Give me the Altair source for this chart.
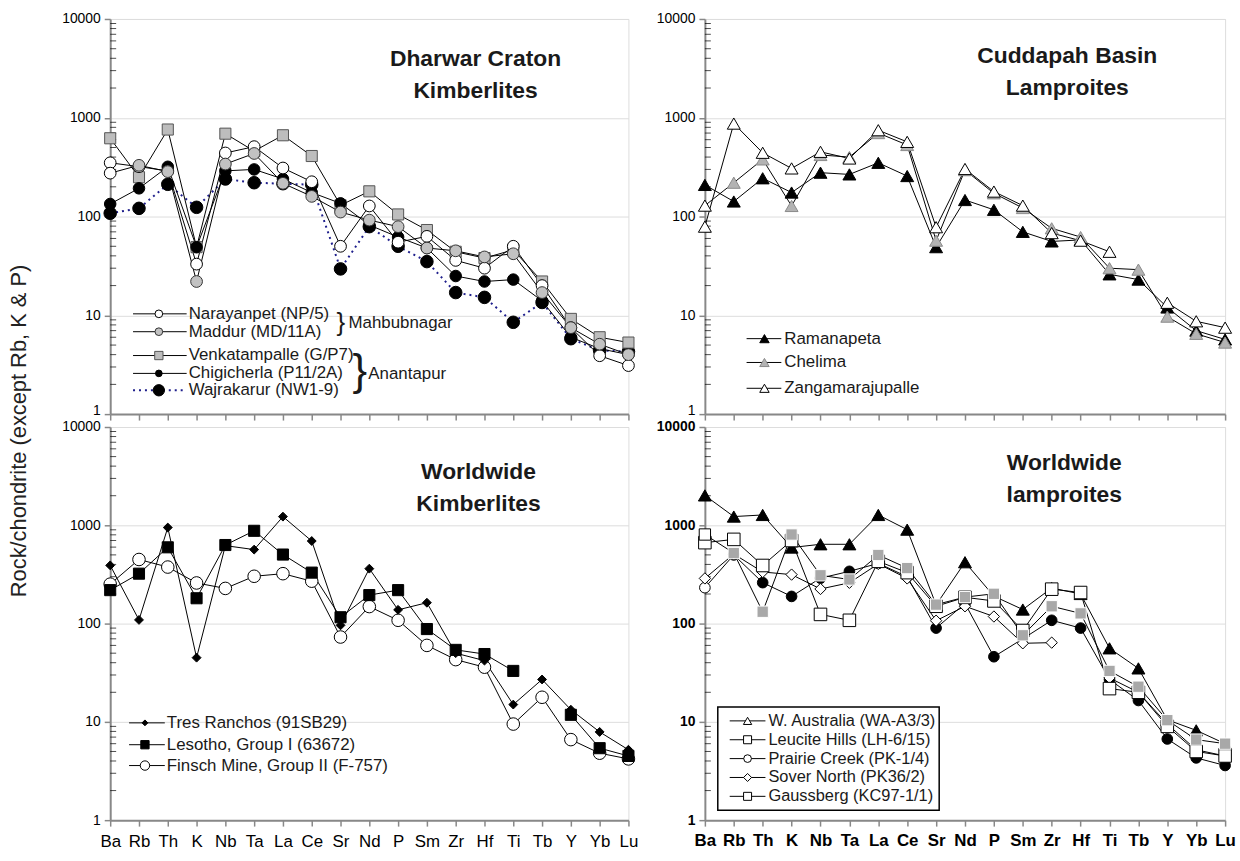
import altair as alt
import pandas as pd

FONT = "Liberation Sans"

ELEMENTS = ["Ba", "Rb", "Th", "K", "Nb", "Ta", "La", "Ce", "Sr", "Nd", "P",
            "Sm", "Zr", "Hf", "Ti", "Tb", "Y", "Yb", "Lu"]

# ---- Dharwar Craton kimberlites ----
NARAYANPET = [350, 320, 290, 33, 440, 510, 310, 225, 50, 128, 55, 63, 36, 30, 50, 20, 7.5, 3.9, 3.1]
MADDUR = [275, 330, 285, 22, 340, 435, 217, 160, 111, 92, 79, 48, 45, 39, 42, 17, 7.5, 5.1, 4.0]
VENKATAMPALLE = [620, 250, 760, 49, 690, 460, 665, 410, 130, 180, 105, 73, 44, 38, 46, 22, 9.2, 6.0, 5.3]
CHIGICHERLA = [134, 193, 319, 49, 290, 300, 240, 175, 136, 82, 62, 48, 25, 22, 23, 14, 6.0, 4.6, 4.0]
WAJRAKARUR = [108, 121, 212, 124, 240, 220, 215, 210, 29.5, 79, 50, 35, 17, 15.2, 8.5, 13.5, 5.8, 4.4, 4.3]

# ---- Cuddapah Basin lamproites ----
RAMANAPETA = [209, 142, 244, 175, 278, 267, 350, 257, 49, 147, 117, 70, 56, 58, 26, 23, 12, 7.0, 5.7]
CHELIMA = [129, 220, 379, 128, 420, 400, 700, 530, 57, 295, 172, 122, 76, 62, 30, 29, 9.7, 6.5, 5.3]
ZANGAMARAJUPALLE = [79, 873, 442, 307, 452, 387, 748, 570, 78, 303, 179, 129, 68, 57, 44, None, 13.4, 8.7, 7.5]

# ---- Worldwide kimberlites ----
TRES_RANCHOS = [391, 109, 949, 45, 621, 566, 1225, 692, 96, 362, 138, 163, 50, 42, 15, 27, 13.3, 7.9, 5.2]
LESOTHO = [219, 322, 597, 181, 630, 879, 504, 330, 116, 195, 219, 88, 54, 49, 33, None, 11.8, 5.4, 4.5]
FINSCH = [252, 449, 376, 259, 228, 303, 322, 270, 73, 149, 108, 60, 43, 36, 9.5, 17.8, 6.6, 4.8, 4.2]

# ---- Worldwide lamproites ----
W_AUSTRALIA = [2014, 1227, 1274, 594, 641, 641, 1274, 903, 155, 421, 190, 139, 230, 200, 56, 35, 10.5, 8.2, 6.0]
LEUCITE_HILLS = [666, 719, 390, 700, 124, 108, 430, 330, 150, 185, 170, 85, 224, 207, 21.8, 20, 9.0, 5.0, 4.5]
PRAIRIE_CREEK = [232, 500, 261, 189, 290, 340, 410, 300, 90, 160, 46, 70, 108, 90, 27, 16.5, 6.7, 4.3, 3.6]
SOVER_NORTH = [288, 510, 335, 315, 225, 260, 405, 288, 107, 150, 118, 63, 64, None, 28, 20, 9.5, 5.2, 4.5]
GAUSSBERG = [806, 522, 132, 806, 310, 281, 499, 367, 156, 186, 201, 76, 150, 127, 33, 22.8, 10.4, 6.6, 6.0]

Y_TICKS = [1, 10, 100, 1000, 10000]
MINOR = [m * 10 ** d for d in range(4) for m in range(2, 10)]

# point fill oddities seen in the figure (style only)
FILL_OVERRIDE = {
    ("Maddur (MD/11A)", "Ba"): ("white", "black"),
    ("Chelima", "Ba"): ("white", "black"),
    ("Prairie Creek (PK-1/4)", "Ba"): ("white", "black"),
    ("Gaussberg (KC97-1/1)", "Ba"): ("white", "black"),
}

ONE = pd.DataFrame({"k": [0]})


def build_df(names, values, styles):
    rows = []
    for s, vals in zip(names, values):
        st = styles[s]
        for i, (e, v) in enumerate(zip(ELEMENTS, vals)):
            f, sk = FILL_OVERRIDE.get((s, e), (st["fill"], st["stroke"]))
            rows.append({"series": s, "element": e, "idx": i, "value": v,
                         "fill": f, "stroke": sk})
    return pd.DataFrame(rows)


def legend_item(st, y, x0, x1, xm, xt, label, fs):
    lkw = dict(color=st.get("line", "black"), strokeWidth=st.get("lw", 1))
    if "dash" in st:
        lkw["strokeDash"] = st["dash"]
    rule = alt.Chart(ONE).mark_rule(**lkw).encode(
        x=alt.value(x0), x2=alt.value(x1), y=alt.value(y))
    pt = alt.Chart(ONE).mark_point(
        shape=st["shape"], filled=True, fill=st["fill"], stroke=st["stroke"],
        strokeWidth=1, size=st["lsize"], opacity=1).encode(x=alt.value(xm), y=alt.value(y))
    tx = alt.Chart(ONE).mark_text(
        text=label, align="left", baseline="middle", font=FONT, fontSize=fs,
        color="#1a1a1a").encode(x=alt.value(xt), y=alt.value(y))
    return [rule, pt, tx]


def text_at(txt, x, y, fs, weight="normal", align="left", baseline="middle", line_height=None, font=FONT):
    kw = dict(text=txt, align=align, baseline=baseline, font=font, fontSize=fs,
              fontWeight=weight, color="#1a1a1a")
    if line_height:
        kw["lineHeight"] = line_height
    return alt.Chart(ONE).mark_text(**kw).encode(x=alt.value(x), y=alt.value(y))


def make_panel(names, values, styles, title, tx, ty, legend_rows, lgeom, lfs,
               w, h, show_labels, bold=False, extras=None):
    df = build_df(names, values, styles)
    weight = "bold" if bold else "normal"
    xaxis = alt.Axis(title=None, labels=show_labels, labelAngle=0, labelFontSize=17,
                     labelFontWeight=weight, tickSize=6, tickWidth=1.5, domainWidth=2,
                     labelPadding=8 if not bold else 7, labelFont=FONT)
    # in the top panels the "1" label sits slightly above its tick
    loff = 0 if show_labels else {"condition": {"test": "datum.value === 1", "value": -4}, "value": 0}
    yaxis = alt.Axis(title=None, values=Y_TICKS, format="d", labelFontSize=14,
                     labelFontWeight=weight, tickSize=6, tickWidth=1.5, domainWidth=2,
                     labelPadding=4, labelFont=FONT, labelOffset=loff)
    xenc = alt.X("element:N", sort=ELEMENTS,
                 scale=alt.Scale(domain=ELEMENTS, type="point", padding=0), axis=xaxis)
    yscale = alt.Scale(type="log", domain=[1, 10000], nice=False)
    yenc = alt.Y("value:Q", scale=yscale, axis=yaxis)

    layers = []
    # minor ticks inside the y axis
    layers.append(alt.Chart(pd.DataFrame({"value": MINOR})).mark_tick(
        orient="horizontal", size=6, thickness=1, color="black").encode(
        y=yenc, x=alt.value(3)))
    for s in names:
        st = styles[s]
        lkw = dict(color=st.get("line", "black"), strokeWidth=st.get("lw", 1),
                   invalid="break-paths-filter-domains")
        if "dash" in st:
            lkw["strokeDash"] = st["dash"]
        layers.append(alt.Chart(df[df.series == s]).mark_line(**lkw).encode(
            x=xenc, y=yenc, order="idx:Q"))
    for s in names:
        st = styles[s]
        layers.append(alt.Chart(df[df.series == s]).mark_point(
            shape=st["shape"], filled=True, strokeWidth=1, size=st["size"], opacity=1).encode(
            x=xenc, y=yenc,
            fill=alt.Fill("fill:N", scale=None),
            stroke=alt.Stroke("stroke:N", scale=None)))
    if extras:
        layers.extend(extras)
    x0, x1, xm, xt = lgeom
    for s, y in legend_rows:
        layers.extend(legend_item(styles[s], y, x0, x1, xm, xt, s, lfs))
    layers.append(text_at(title, tx, ty, 23, weight="bold", align="center",
                          baseline="alphabetic", line_height=33))
    return alt.layer(*layers).properties(width=w, height=h)


# ---------------- styles ----------------
S_TL = {
    "Narayanpet (NP/5)": dict(shape="circle", fill="white", stroke="black", size=140, lsize=60),
    "Maddur (MD/11A)": dict(shape="circle", fill="#c2c2c2", stroke="#333333", size=140, lsize=60),
    "Venkatampalle (G/P7)": dict(shape="square", fill="#bdbdbd", stroke="#555555", size=125, lsize=70),
    "Chigicherla (P11/2A)": dict(shape="circle", fill="black", stroke="black", size=135, lsize=45),
    "Wajrakarur (NW1-9)": dict(shape="circle", fill="black", stroke="black", size=160, lsize=130,
                               line="#1f1f8c", lw=2, dash=[2, 4]),
}
TL_ORDER = ["Wajrakarur (NW1-9)", "Venkatampalle (G/P7)", "Chigicherla (P11/2A)",
            "Narayanpet (NP/5)", "Maddur (MD/11A)"]
TL_VALUES = {"Narayanpet (NP/5)": NARAYANPET, "Maddur (MD/11A)": MADDUR,
             "Venkatampalle (G/P7)": VENKATAMPALLE, "Chigicherla (P11/2A)": CHIGICHERLA,
             "Wajrakarur (NW1-9)": WAJRAKARUR}

S_TR = {
    "Ramanapeta": dict(shape="triangle-up", fill="black", stroke="black", size=170, lsize=90),
    "Chelima": dict(shape="triangle-up", fill="#b3b3b3", stroke="#8a8a8a", size=170, lsize=90),
    "Zangamarajupalle": dict(shape="triangle-up", fill="white", stroke="black", size=170, lsize=90),
}
TR_ORDER = ["Ramanapeta", "Chelima", "Zangamarajupalle"]
TR_VALUES = {"Ramanapeta": RAMANAPETA, "Chelima": CHELIMA, "Zangamarajupalle": ZANGAMARAJUPALLE}

S_BL = {
    "Tres Ranchos (91SB29)": dict(shape="diamond", fill="black", stroke="black", size=80, lsize=35),
    "Lesotho, Group I (63672)": dict(shape="square", fill="black", stroke="black", size=125, lsize=70),
    "Finsch Mine, Group II (F-757)": dict(shape="circle", fill="white", stroke="black", size=160, lsize=90),
}
BL_ORDER = ["Finsch Mine, Group II (F-757)", "Lesotho, Group I (63672)", "Tres Ranchos (91SB29)"]
BL_VALUES = {"Tres Ranchos (91SB29)": TRES_RANCHOS, "Lesotho, Group I (63672)": LESOTHO,
             "Finsch Mine, Group II (F-757)": FINSCH}

S_BR = {
    "W. Australia (WA-A3/3)": dict(shape="triangle-up", fill="black", stroke="black", size=170, lsize=70),
    "Leucite Hills (LH-6/15)": dict(shape="square", fill="white", stroke="black", size=160, lsize=65),
    "Prairie Creek (PK-1/4)": dict(shape="circle", fill="black", stroke="black", size=115, lsize=60),
    "Sover North (PK36/2)": dict(shape="diamond", fill="white", stroke="black", size=130, lsize=65),
    "Gaussberg (KC97-1/1)": dict(shape="square", fill="#a8a8a8", stroke="white", size=130, lsize=65),
}
BR_LEGEND = ["W. Australia (WA-A3/3)", "Leucite Hills (LH-6/15)", "Prairie Creek (PK-1/4)",
             "Sover North (PK36/2)", "Gaussberg (KC97-1/1)"]
BR_ORDER = ["W. Australia (WA-A3/3)", "Prairie Creek (PK-1/4)", "Sover North (PK36/2)",
            "Leucite Hills (LH-6/15)", "Gaussberg (KC97-1/1)"]
BR_VALUES = {"W. Australia (WA-A3/3)": W_AUSTRALIA, "Leucite Hills (LH-6/15)": LEUCITE_HILLS,
             "Prairie Creek (PK-1/4)": PRAIRIE_CREEK, "Sover North (PK36/2)": SOVER_NORTH,
             "Gaussberg (KC97-1/1)": GAUSSBERG}
# legend entries drawn with white symbols, as in the figure
S_BR_LEG = dict(S_BR)
S_BR_LEG["Gaussberg (KC97-1/1)"] = dict(shape="square", fill="white", stroke="black", size=130, lsize=65)
S_BR_LEG["Prairie Creek (PK-1/4)"] = dict(shape="circle", fill="white", stroke="black", size=115, lsize=60)
S_BR_LEG["W. Australia (WA-A3/3)"] = dict(shape="triangle-up", fill="white", stroke="black", size=170, lsize=70)

W_L, W_R, H_T, H_B = 522, 524, 398, 396

# ---------------- panels ----------------
tl_extras = [
    text_at("}", 228, 306, 26),
    text_at("Mahbubnagar", 240, 306, 17),
    text_at("}", 244, 356, 44),
    text_at("Anantapur", 260, 358, 17),
]
tl = make_panel(TL_ORDER, [TL_VALUES[s] for s in TL_ORDER], S_TL,
                ["Dharwar Craton", "Kimberlites"], 368, 47,
                [("Narayanpet (NP/5)", 297), ("Maddur (MD/11A)", 315),
                 ("Venkatampalle (G/P7)", 339), ("Chigicherla (P11/2A)", 357),
                 ("Wajrakarur (NW1-9)", 374)],
                (23, 77, 49, 79), 17, W_L, H_T, False, extras=tl_extras)

tr = make_panel(TR_ORDER, [TR_VALUES[s] for s in TR_ORDER], S_TR,
                ["Cuddapah Basin", "Lamproites"], 365, 44,
                [("Ramanapeta", 322), ("Chelima", 346), ("Zangamarajupalle", 372)],
                (42, 77, 60, 80), 17, W_R, H_T, False)

bl = make_panel(BL_ORDER, [BL_VALUES[s] for s in BL_ORDER], S_BL,
                ["Worldwide", "Kimberlites"], 371, 52,
                [("Tres Ranchos (91SB29)", 298), ("Lesotho, Group I (63672)", 320),
                 ("Finsch Mine, Group II (F-757)", 341)],
                (19, 55, 35, 57), 17, W_L, H_B, True)

br_box = alt.Chart(ONE).mark_rect(fill="white", stroke="black", strokeWidth=1.5).encode(
    x=alt.value(13), x2=alt.value(236), y=alt.value(282), y2=alt.value(386))
br = make_panel(BR_ORDER, [BR_VALUES[s] for s in BR_ORDER], S_BR,
                ["Worldwide", "lamproites"], 362, 43, [], (0, 0, 0, 0), 16.5,
                W_R, H_B, True, bold=True, extras=[br_box])
br_leg = []
for i, s in enumerate(BR_LEGEND):
    br_leg.extend(legend_item(S_BR_LEG[s], 296 + 19 * i, 25, 61, 43, 64, s, 16.5))
br = alt.layer(br, *br_leg)

chart = alt.concat(
    tl, tr, bl, br, columns=2, spacing={"row": 13, "column": 77}, bounds="flush",
    title=alt.TitleParams("Rock/chondrite (except Rb, K & P)", orient="left", anchor="middle",
                          fontSize=22, fontWeight="normal", font=FONT, color="#222222",
                          offset=30),
).properties(
    padding={"left": 8, "top": 8, "right": 4, "bottom": 4}
).configure_view(
    stroke="black", strokeWidth=1.5
).configure_axis(
    grid=False, domainColor="black", tickColor="black", labelColor="#1a1a1a"
).configure(font=FONT)

chart.save("out.html", embed_options={"renderer": "svg", "actions": False})
